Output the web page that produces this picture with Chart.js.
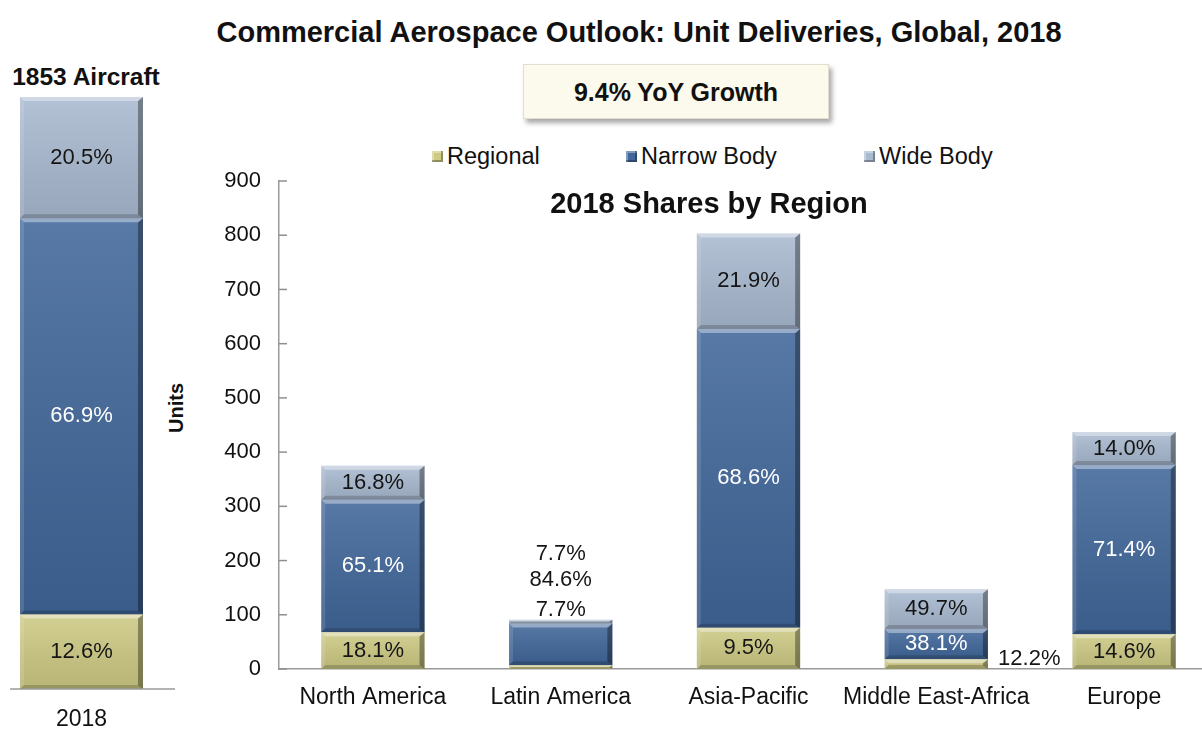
<!DOCTYPE html>
<html>
<head>
<meta charset="utf-8">
<title>Commercial Aerospace Outlook</title>
<script src="https://cdn.jsdelivr.net/npm/chart.js@4.4.1/dist/chart.umd.min.js"></script>
<style>
  body {
    margin: 0;
    width: 1202px;
    height: 729px;
    overflow: hidden;
    position: relative;
    background: #fff;
    font-family: "Liberation Sans", Arial, sans-serif;
    color: #111;
  }
  .abs { position: absolute; white-space: nowrap; }
  #title { left: 639px; top: 16px; transform: translateX(-50%); font-weight: bold; font-size: 29px; }
  #growth {
    left: 523px; top: 64px; width: 304px; height: 53px;
    background: #fcfaec; border: 1px solid #e2dfcf;
    box-shadow: 3px 4px 5px rgba(0,0,0,0.35);
    font-weight: bold; font-size: 25px; line-height: 55px; text-align: center;
  }
  #globalTitle { left: 86px; top: 63px; transform: translateX(-50%); font-weight: bold; font-size: 24.5px; }
  #subtitle { left: 709px; top: 187px; transform: translateX(-50%); font-weight: bold; font-size: 29px; z-index: 2; }
  #units { left: 176px; top: 408px; transform: translate(-50%, -50%) rotate(-90deg); font-weight: bold; font-size: 20px; }
  #legend { top: 143px; font-size: 23.5px; }
  #legend span.item { position: absolute; display: flex; align-items: center; }
  #legend i { display: inline-block; width: 11px; height: 11px; margin-right: 4px; box-shadow: inset -2px -2px 0 rgba(0,0,0,0.3), inset 2px 2px 0 rgba(255,255,255,0.35); }
  #globalWrap { left: 0; top: 60px; width: 180px; height: 669px; }
  #regionWrap { left: 150px; top: 130px; width: 1070px; height: 599px; }
</style>
</head>
<body>
<div class="abs" id="title">Commercial Aerospace Outlook: Unit Deliveries, Global, 2018</div>
<div class="abs" id="growth">9.4% YoY Growth</div>
<div class="abs" id="globalTitle">1853 Aircraft</div>
<div class="abs" id="legend"></div>
<div class="abs" id="subtitle">2018 Shares by Region</div>
<div class="abs" id="units">Units</div>
<div class="abs" id="globalWrap"><canvas id="globalChart"></canvas></div>
<div class="abs" id="regionWrap"><canvas id="regionChart"></canvas></div>

<script>
// deliveries by region, units
const regions = ['North America', 'Latin America', 'Asia-Pacific', 'Middle East-Africa', 'Europe'];
const regional = [68, 7, 76, 18, 64];
const narrowBody = [244, 77, 551, 56, 312];
const wideBody = [63, 7, 176, 73, 61];

// global mix, percent of 1853 aircraft
const globalYear = ['2018'];
const globalRegional = [12.6];
const globalNarrow = [66.9];
const globalWide = [20.5];

const yTickMax = 900;
const yTickStep = 100;

const seriesNames = ['Regional', 'Narrow Body', 'Wide Body'];
const seriesColors = ['#cdca84', '#41679a', '#a9bad0'];
const labelColors = ['#151515', '#ffffff', '#151515'];

// legend
const legendX = [432, 626, 864];
const legendEl = document.getElementById('legend');
seriesNames.forEach((name, i) => {
  const s = document.createElement('span');
  s.className = 'item';
  s.style.left = legendX[i] + 'px';
  s.innerHTML = '<i style="background:' + seriesColors[i] + '"></i>' + name;
  legendEl.appendChild(s);
});

const font = "Liberation Sans";
Chart.defaults.font.family = font;
Chart.defaults.color = '#111';

// excel-like bevel on every bar segment
const bevel = {
  id: 'bevel',
  afterDatasetsDraw(chart) {
    const ctx = chart.ctx;
    chart.data.datasets.forEach((ds, di) => {
      chart.getDatasetMeta(di).data.forEach(bar => {
        const {x, y, base, width} = bar.getProps(['x', 'y', 'base', 'width'], true);
        const l = x - width / 2, r = x + width / 2;
        const t = Math.min(y, base), b = Math.max(y, base);
        const h = b - t;
        if (h < 1) return;
        ctx.save();
        const g = ctx.createLinearGradient(0, t, 0, b);
        g.addColorStop(0, 'rgba(255,255,255,0.12)');
        g.addColorStop(1, 'rgba(0,0,0,0.10)');
        ctx.fillStyle = g;
        ctx.fillRect(l, t, width, h);
        const e = Math.min(4, h / 2);
        const quad = (pts, c) => {
          ctx.fillStyle = c;
          ctx.beginPath();
          ctx.moveTo(pts[0], pts[1]);
          for (let k = 2; k < pts.length; k += 2) ctx.lineTo(pts[k], pts[k + 1]);
          ctx.closePath();
          ctx.fill();
        };
        quad([l, t, r, t, r - e, t + e, l + e, t + e], 'rgba(255,255,255,0.38)');
        quad([l, t, l + e, t + e, l + e, b - e, l, b], 'rgba(255,255,255,0.12)');
        quad([r, t, r, b, r - e - 1, b - e, r - e - 1, t + e], 'rgba(0,0,0,0.35)');
        quad([l, b, l + e, b - e, r - e, b - e, r, b], 'rgba(0,0,0,0.18)');
        ctx.restore();
      });
    });
  }
};

// percentage labels; nudges move a few crowded labels off their segment
const segLabels = {
  id: 'segLabels',
  afterDatasetsDraw(chart, args, opts) {
    const ctx = chart.ctx;
    ctx.save();
    ctx.font = opts.size + 'px ' + font;
    ctx.textAlign = 'center';
    ctx.textBaseline = 'middle';
    chart.data.datasets.forEach((ds, di) => {
      chart.getDatasetMeta(di).data.forEach((bar, i) => {
        const {x, y, base} = bar.getProps(['x', 'y', 'base'], true);
        const nudge = (opts.nudges || {})[di + '-' + i] || {dx: 0, dy: 0, dark: false};
        ctx.fillStyle = nudge.dark ? '#151515' : labelColors[di];
        ctx.fillText(opts.text(di, i), x + nudge.dx, (y + base) / 2 + nudge.dy);
      });
    });
    ctx.restore();
  }
};

// inside tick marks on the value axis
const innerTicks = {
  id: 'innerTicks',
  afterDraw(chart) {
    const sc = chart.scales.y;
    if (!sc || !sc.options.display) return;
    const ctx = chart.ctx;
    ctx.save();
    ctx.strokeStyle = '#8f8f8f';
    ctx.lineWidth = 1.5;
    sc.ticks.forEach(t => {
      const py = sc.getPixelForValue(t.value);
      ctx.beginPath();
      ctx.moveTo(sc.right, py);
      ctx.lineTo(sc.right + 8, py);
      ctx.stroke();
    });
    ctx.restore();
  }
};

// baseline that runs past the plot on the global chart
const baseLine = {
  id: 'baseLine',
  afterDraw(chart, args, opts) {
    const ctx = chart.ctx;
    const yb = chart.chartArea.bottom;
    ctx.save();
    ctx.strokeStyle = '#9a9a9a';
    ctx.lineWidth = 1.5;
    ctx.beginPath();
    ctx.moveTo(opts.from, yb);
    ctx.lineTo(opts.to, yb);
    ctx.stroke();
    ctx.restore();
  }
};

const regionTotals = regions.map((r, i) => regional[i] + narrowBody[i] + wideBody[i]);
const regionSeries = [regional, narrowBody, wideBody];

new Chart(document.getElementById('regionChart'), {
  type: 'bar',
  data: {
    labels: regions,
    datasets: regionSeries.map((d, k) => ({
      label: seriesNames[k],
      data: d,
      backgroundColor: seriesColors[k],
      borderWidth: 0,
      categoryPercentage: 1,
      barPercentage: 0.55
    }))
  },
  options: {
    responsive: true,
    maintainAspectRatio: false,
    animation: false,
    events: [],
    layout: { padding: { top: 51, right: 2, left: 0, bottom: 0 } },
    plugins: {
      legend: { display: false },
      tooltip: { enabled: false },
      segLabels: {
        size: 22,
        text: (di, i) => (regionSeries[di][i] / regionTotals[i] * 100).toFixed(1) + '%',
        nudges: {
          '0-1': { dx: 0, dy: -57, dark: true },
          '1-1': { dx: 0, dy: -64, dark: true },
          '2-1': { dx: 0, dy: -68, dark: true },
          '0-3': { dx: 93, dy: -5, dark: true }
        }
      }
    },
    scales: {
      x: {
        stacked: true,
        grid: { display: false, drawTicks: false },
        border: { display: true, color: '#9a9a9a', width: 1.5 },
        ticks: { font: { size: 23 }, color: '#111', padding: 15, maxRotation: 0, minRotation: 0, autoSkip: false },
        afterFit: s => { s.height = 60; }
      },
      y: {
        stacked: true,
        min: 0,
        max: yTickMax,
        grid: { display: false, drawTicks: false },
        border: { display: true, color: '#9a9a9a', width: 1.5 },
        ticks: { stepSize: yTickStep, font: { size: 22 }, color: '#111', padding: 18 },
        afterFit: s => { s.width = 129; }
      }
    }
  },
  plugins: [bevel, segLabels, innerTicks]
});

const globalSeries = [globalRegional, globalNarrow, globalWide];

new Chart(document.getElementById('globalChart'), {
  type: 'bar',
  data: {
    labels: globalYear,
    datasets: globalSeries.map((d, k) => ({
      label: seriesNames[k],
      data: d,
      backgroundColor: seriesColors[k],
      borderWidth: 0,
      categoryPercentage: 1,
      barPercentage: 0.86
    }))
  },
  options: {
    responsive: true,
    maintainAspectRatio: false,
    animation: false,
    events: [],
    layout: { padding: { top: 37, right: 27, left: 10, bottom: 0 } },
    plugins: {
      legend: { display: false },
      tooltip: { enabled: false },
      segLabels: {
        size: 22,
        text: (di, i) => globalSeries[di][i].toFixed(1) + '%'
      },
      baseLine: { from: 10, to: 175 }
    },
    scales: {
      x: {
        stacked: true,
        grid: { display: false, drawTicks: false },
        border: { display: false },
        ticks: { font: { size: 23 }, color: '#111', padding: 17, maxRotation: 0, minRotation: 0 },
        afterFit: s => { s.height = 40; }
      },
      y: { stacked: true, display: false, min: 0, max: 100 }
    }
  },
  plugins: [bevel, segLabels, baseLine]
});
</script>
</body>
</html>
